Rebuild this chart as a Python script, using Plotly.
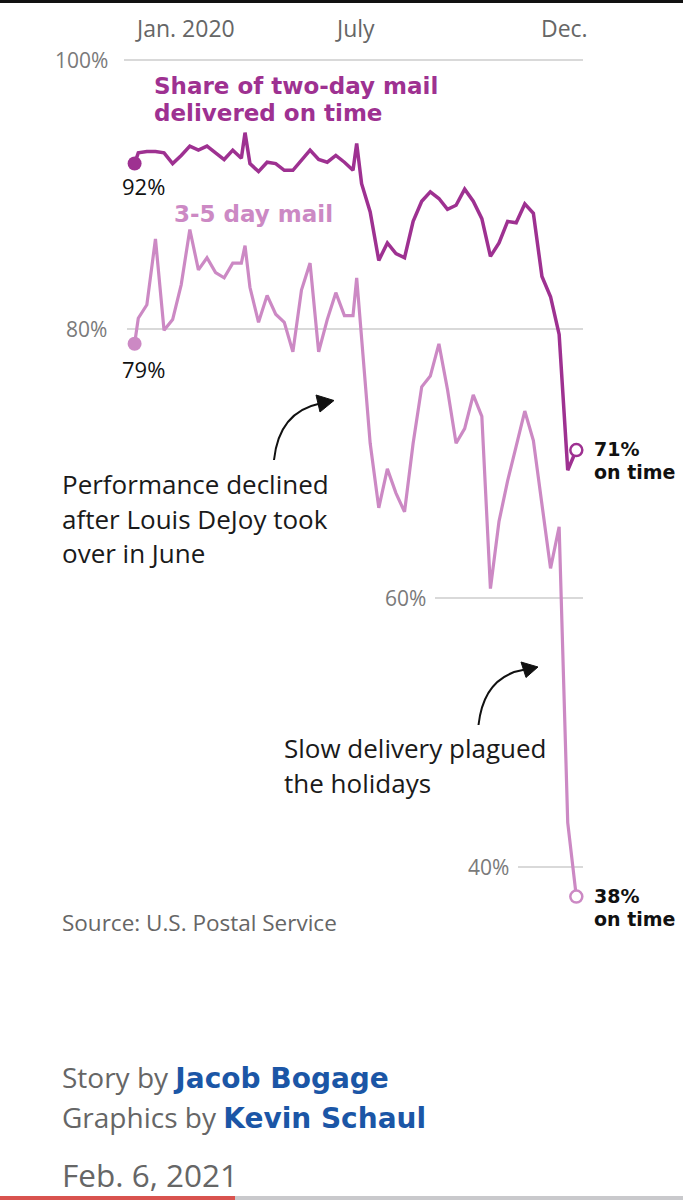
import plotly.graph_objects as go
import pandas as pd

# ---------------- data ----------------
extra_dates = ["2020-01-01", "2020-03-31", "2020-06-30"]
weekly_dates = [d.strftime("%Y-%m-%d") for d in pd.date_range("2020-01-04", "2020-12-26", freq="7D")]
dates = sorted(extra_dates + weekly_dates)

two_day = [92.3,
           93.1, 93.2, 93.2, 93.1, 92.3, 92.9, 93.6, 93.3, 93.6, 93.1, 92.6, 93.3, 92.7,
           94.6,
           92.3, 91.7, 92.4, 92.3, 91.8, 91.8, 92.6, 93.3, 92.6, 92.4, 92.9, 92.4, 91.8,
           93.8,
           90.8, 88.7, 85.1, 86.4, 85.6, 85.3, 88.0, 89.5, 90.2, 89.7, 88.9, 89.2, 90.4,
           89.5, 88.2, 85.4, 86.4, 88.0, 87.9, 89.3, 88.6, 83.9, 82.4, 79.6, 69.5, 71.0]

three_five_day = [78.9,
                  80.8, 81.8, 86.7, 79.9, 80.7, 83.3, 87.4, 84.4, 85.3, 84.2, 83.8, 84.9, 84.9,
                  86.2,
                  83.1, 80.5, 82.5, 81.1, 80.5, 78.3, 82.9, 84.9, 78.3, 80.7, 82.7, 81.0, 81.0,
                  83.8,
                  79.4, 71.5, 66.7, 69.6, 67.8, 66.4, 71.5, 75.7, 76.5, 78.9, 75.5, 71.5, 72.6,
                  75.1, 73.5, 60.7, 65.7, 68.7, 71.3, 73.9, 71.7, 66.9, 62.2, 65.3, 43.3, 37.8]

y_ticks = [100, 80, 60, 40]
y_tick_labels = ["100%", "80%", "60%", "40%"]
month_labels = ["Jan. 2020", "July", "Dec."]

# ---------------- styling ----------------
W, H = 683, 1200
DARK = "#9e3191"
LIGHT = "#cc89c4"
GRAY = "#666666"
TICKGRAY = "#7a7a7a"
BLUE = "#1b56a6"
FONT = "Open Sans"
BOLD = "DejaVu Sans"

def px(x):
    return x / W

def py(y):
    return 1 - y / H

def b(s, color=None):
    style = "font-family:'%s';font-weight:bold" % BOLD
    if color:
        style += ";fill:%s" % color
    return '<span style="%s">%s</span>' % (style, s)

PX_PER_DAY = 1.227
JAN1_PX = 134.6
jan1 = pd.Timestamp("2020-01-01")
x_start = jan1 - pd.Timedelta(days=JAN1_PX / PX_PER_DAY)
x_end = x_start + pd.Timedelta(days=W / PX_PER_DAY)

PX_PER_PCT = 13.45
y_top = 100 + 60 / PX_PER_PCT
y_bot = 100 - (H - 60) / PX_PER_PCT

fig = go.Figure()

# lines
fig.add_trace(go.Scatter(x=dates, y=three_five_day, mode="lines",
                         line=dict(color=LIGHT, width=3.2), hoverinfo="skip"))
fig.add_trace(go.Scatter(x=dates, y=two_day, mode="lines",
                         line=dict(color=DARK, width=3.5), hoverinfo="skip"))
# start dots
fig.add_trace(go.Scatter(x=[dates[0]], y=[three_five_day[0]], mode="markers",
                         marker=dict(color=LIGHT, size=14), hoverinfo="skip"))
fig.add_trace(go.Scatter(x=[dates[0]], y=[two_day[0]], mode="markers",
                         marker=dict(color=DARK, size=14), hoverinfo="skip"))
# end open circles
fig.add_trace(go.Scatter(x=[dates[-1]], y=[three_five_day[-1]], mode="markers",
                         marker=dict(color="white", size=12, line=dict(color=LIGHT, width=2.5)),
                         hoverinfo="skip"))
fig.add_trace(go.Scatter(x=[dates[-1]], y=[two_day[-1]], mode="markers",
                         marker=dict(color="white", size=12, line=dict(color=DARK, width=2.5)),
                         hoverinfo="skip"))

shapes = []
grid_start = {100: 124, 80: 127, 60: 435, 40: 518}
for v in y_ticks:
    shapes.append(dict(type="line", xref="paper", yref="y", x0=px(grid_start[v]), x1=px(583),
                       y0=v, y1=v, line=dict(color="#cccccc", width=1.5), layer="below"))

def arrow(tail, ctrl, end, tip, b1, b2):
    path = "M %f,%f Q %f,%f %f,%f" % (px(tail[0]), py(tail[1]), px(ctrl[0]), py(ctrl[1]),
                                      px(end[0]), py(end[1]))
    head = "M %f,%f L %f,%f L %f,%f Z" % (px(tip[0]), py(tip[1]), px(b1[0]), py(b1[1]),
                                          px(b2[0]), py(b2[1]))
    return [dict(type="path", xref="paper", yref="paper", path=path,
                 line=dict(color="#111111", width=2)),
            dict(type="path", xref="paper", yref="paper", path=head,
                 fillcolor="#111111", line=dict(color="#111111", width=1))]

shapes += arrow((274, 460), (279, 412), (320, 403.5), (334, 400.5), (316, 395), (320, 412))
shapes += arrow((478.5, 725), (484, 676), (525, 669.5), (538, 667), (521, 662), (526, 677.5))

shapes.append(dict(type="rect", xref="paper", yref="paper", x0=0, x1=1, y0=py(3), y1=1,
                   fillcolor="#111111", line=dict(width=0)))
shapes.append(dict(type="rect", xref="paper", yref="paper", x0=0, x1=px(235), y0=0, y1=py(1196),
                   fillcolor="#d9534f", line=dict(width=0)))
shapes.append(dict(type="rect", xref="paper", yref="paper", x0=px(235), x1=1, y0=0, y1=py(1196),
                   fillcolor="#c9c9cc", line=dict(width=0)))

ann = []
def text(x, y, s, size, color, anchor="left", yanchor="middle", xref="paper", yref="paper"):
    ann.append(dict(x=x, y=y, xref=xref, yref=yref, text=s, showarrow=False,
                    xanchor=anchor, yanchor=yanchor,
                    font=dict(family=FONT, size=size, color=color)))

# month labels
text(px(133), py(28), month_labels[0], 23, GRAY, "left")
text(px(355), py(28), month_labels[1], 23, GRAY, "center")
text(px(590), py(28), month_labels[2], 23, GRAY, "right")

# y tick labels
tick_right = {100: 110, 80: 109, 60: 428, 40: 511}
for v, lab in zip(y_ticks, y_tick_labels):
    text(px(tick_right[v]), v, lab, 21, TICKGRAY, "right", yref="y")

# series titles
text(px(152), py(86), b("Share of two-day mail"), 23, DARK)
text(px(152), py(113), b("delivered on time"), 23, DARK)
text(px(172), py(214), b("3-5 day mail"), 23, LIGHT)

# start value labels
for series, ys in ((two_day, -22), (three_five_day, -25)):
    ann.append(dict(x=dates[0], y=series[0], xref="x", yref="y", text="%d%%" % round(series[0]),
                    showarrow=False, xanchor="center", yanchor="middle", xshift=9, yshift=ys,
                    font=dict(family=FONT, size=22, color="#111111")))

# end value labels
for series in (two_day, three_five_day):
    ann.append(dict(x=dates[-1], y=series[-1], xref="x", yref="y",
                    text=b("%d%%" % round(series[-1])), showarrow=False,
                    xanchor="left", yanchor="middle", xshift=16, yshift=1,
                    font=dict(family=FONT, size=19, color="#111111")))
    ann.append(dict(x=dates[-1], y=series[-1], xref="x", yref="y",
                    text=b("on time"), showarrow=False,
                    xanchor="left", yanchor="middle", xshift=16, yshift=-22,
                    font=dict(family=FONT, size=19, color="#111111")))

# notes
for i, line in enumerate(["Performance declined", "after Louis DeJoy took", "over in June"]):
    text(px(60), py(484 + 34.5 * i), line, 26, "#1a1a1a")
for i, line in enumerate(["Slow delivery plagued", "the holidays"]):
    text(px(282), py(748 + 34.5 * i), line, 26, "#1a1a1a")

# source and credits
text(px(60), py(922), "Source: U.S. Postal Service", 22.5, GRAY)
text(px(60), py(1077), "Story by " + b("Jacob Bogage", BLUE), 28, GRAY)
text(px(60), py(1117), "Graphics by " + b("Kevin Schaul", BLUE), 28, GRAY)
text(px(60), py(1174), "Feb. 6, 2021", 31.5, GRAY)

fig.update_layout(
    width=W, height=H,
    margin=dict(l=0, r=0, t=0, b=0),
    paper_bgcolor="white", plot_bgcolor="white",
    showlegend=False,
    xaxis=dict(type="date", range=[x_start, x_end], visible=False, fixedrange=True),
    yaxis=dict(range=[y_bot, y_top], visible=False, fixedrange=True),
    shapes=shapes, annotations=ann,
)

fig.write_html("out.html", config={"displayModeBar": False},
               post_script="document.body.style.margin='0';document.body.style.overflow='hidden';")
